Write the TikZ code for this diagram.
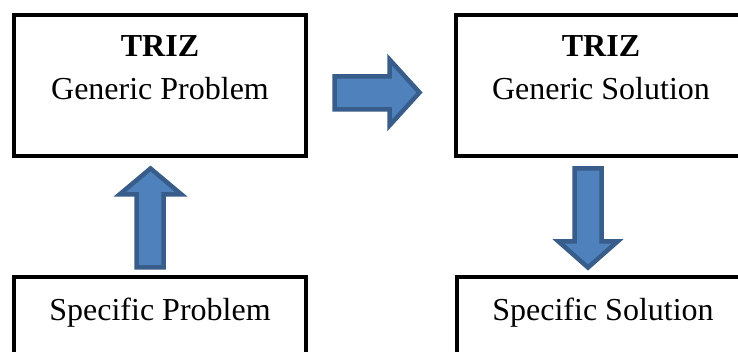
\documentclass[tikz,border=0pt]{standalone}
\usepackage{fontspec}
\setmainfont{Liberation Serif}
\definecolor{arrowfill}{HTML}{4F81BD}
\definecolor{arrowline}{HTML}{385D8A}
\tikzset{
  box/.style={draw=black, line width=4pt, inner sep=0pt, minimum width=292pt, minimum height=141pt},
  label/.style={anchor=base, inner sep=0pt, font=\fontsize{32}{38}\selectfont},
  blockarrow/.style={fill=arrowfill, draw=arrowline, line width=4.5pt, line join=miter}
}
\begin{document}
\begin{tikzpicture}[x=1pt, y=-1pt]
  \useasboundingbox (0,0) rectangle (738,352);
  \clip (0,0) rectangle (738,352);
  \fill[white] (0,0) rectangle (738,352);

  % boxes
  \node[box] (genprob) at (160,85.5) {};
  \node[box] (gensol)  at (602,85.5) {};
  \node[box] (specprob) at (160,347.5) {};
  \node[box] (specsol)  at (603,347.5) {};

  % texts
  \node[label, font=\fontsize{32}{38}\selectfont\bfseries] (t1) at (160,57) {TRIZ};
  \node[label] (t2) at (160,100) {Generic Problem};
  \node[label, font=\fontsize{32}{38}\selectfont\bfseries] (t3) at (601,57) {TRIZ};
  \node[label] (t4) at (601,100) {Generic Solution};
  \node[label] (t5) at (160,320) {Specific Problem};
  \node[label] (t6) at (603,320) {Specific Solution};

  % block arrow: generic problem -> generic solution
  \draw[blockarrow] (334.5,76.5) -- (389.5,76.5) -- (389.5,59.5) -- (419.5,92.5)
    -- (389.5,125.5) -- (389.5,109.5) -- (334.5,109.5) -- cycle;
  % block arrow: specific problem -> generic problem
  \draw[blockarrow] (136.5,267.5) -- (136.5,194.5) -- (119.5,194.5) -- (150.5,168.5)
    -- (181.5,194.5) -- (163.5,194.5) -- (163.5,267.5) -- cycle;
  % block arrow: generic solution -> specific solution
  \draw[blockarrow] (574.5,168.5) -- (601.5,168.5) -- (601.5,241.5) -- (617.5,241.5)
    -- (588,267.5) -- (558.5,241.5) -- (574.5,241.5) -- cycle;
\end{tikzpicture}
\end{document}
